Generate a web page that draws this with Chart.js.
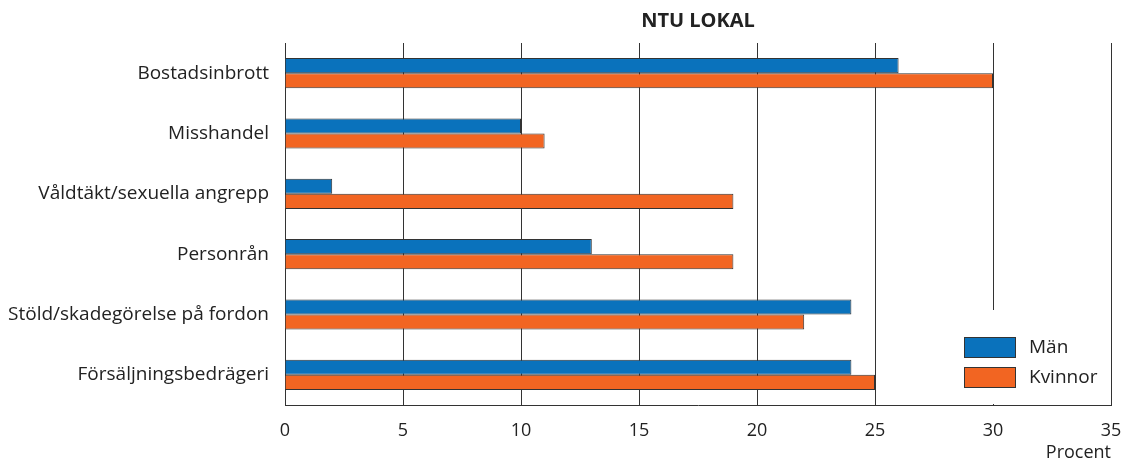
<!DOCTYPE html>
<html><head><meta charset="utf-8">
<script src="https://cdn.jsdelivr.net/npm/chart.js@4/dist/chart.umd.min.js"></script>
<style>html,body{margin:0;padding:0;background:#fff}#wrap{width:1123px;height:461px}</style>
</head><body><div id="wrap"><canvas id="c" width="1123" height="461"></canvas></div>
<script>
const categories = ["Bostadsinbrott","Misshandel","Våldtäkt/sexuella angrepp","Personrån","Stöld/skadegörelse på fordon","Försäljningsbedrägeri"];
const man = [26,10,2,13,24,24];
const kvinnor = [30,11,19,19,22,25];
const xTicks = [0,5,10,15,20,25,30,35];
const FONT = "'Open Sans', sans-serif";
const BLUE = "#0a72bc", ORANGE = "#f26522", LINE = "#333333";

const legendBox = {
  id: 'legendBox',
  afterDraw(chart){
    const ctx = chart.ctx, a = chart.chartArea;
    const left = a.right - 168, top = a.bottom - 95;
    ctx.save();
    ctx.fillStyle = '#fff';
    ctx.fillRect(left, top, a.right - 1 - left, a.bottom - 1 - top);
    const items = [[ 'Män', BLUE ], [ 'Kvinnor', ORANGE ]];
    items.forEach((it, i) => {
      const sx = a.right - 147, sy = a.bottom - 68 + i * 30;
      ctx.fillStyle = it[1];
      ctx.fillRect(sx, sy, 52, 21);
      ctx.strokeStyle = LINE; ctx.lineWidth = 1;
      ctx.strokeRect(sx + 0.5, sy + 0.5, 51, 20);
      ctx.fillStyle = '#222';
      ctx.font = "19px " + FONT;
      ctx.textBaseline = 'middle';
      ctx.fillText(it[0], sx + 65, sy + 11);
    });
    ctx.restore();
  }
};

new Chart(document.getElementById('c'), {
  type: 'bar',
  data: {
    labels: categories,
    datasets: [
      {label: 'Män', data: man, backgroundColor: BLUE, borderColor: LINE, borderWidth: 1},
      {label: 'Kvinnor', data: kvinnor, backgroundColor: ORANGE, borderColor: LINE, borderWidth: 1}
    ]
  },
  options: {
    indexAxis: 'y',
    responsive: false,
    animation: false,
    devicePixelRatio: 1,
    layout: {padding: {left: 0, right: 12, top: 0, bottom: 0}},
    datasets: {bar: {categoryPercentage: 0.5, barPercentage: 1.0}},
    plugins: {
      legend: {display: false},
      tooltip: {enabled: false},
      title: {display: true, text: 'NTU LOKAL', fullSize: false, color: '#222',
        font: {family: FONT, size: 20, weight: 'bold', lineHeight: 1.2}, padding: {top: 9, bottom: 10}}
    },
    scales: {
      x: {
        min: 0, max: 35,
        afterBuildTicks(s){ s.ticks = xTicks.map(v => ({value: v})); },
        afterFit(s){ s.height = 56; s.paddingRight = 0; s.paddingLeft = 0; },
        grid: {color: LINE, lineWidth: 1, drawTicks: false},
        border: {display: true, color: LINE, width: 1},
        ticks: {color: '#222', font: {family: FONT, size: 18}, padding: 15, maxRotation: 0},
        title: {display: true, text: 'Procent', align: 'end', color: '#222',
          font: {family: FONT, size: 18, lineHeight: 0.9}, padding: {top: 5, bottom: 0}}
      },
      y: {
        afterFit(s){ s.width = 285; },
        grid: {display: false},
        border: {display: true, color: LINE, width: 1},
        ticks: {color: '#222', font: {family: FONT, size: 19}, padding: 8}
      }
    }
  },
  plugins: [legendBox]
});
</script>
</body></html>
